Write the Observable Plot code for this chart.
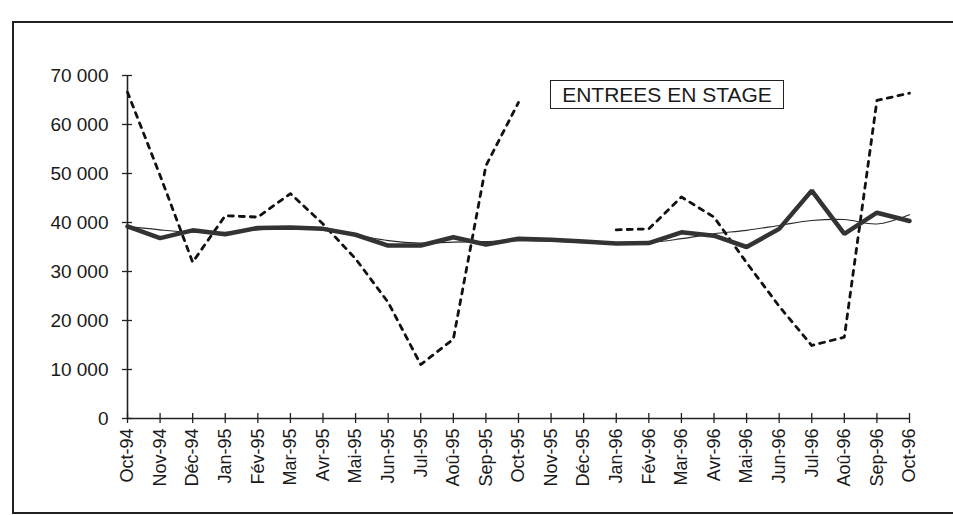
<!DOCTYPE html>
<html>
<head>
<meta charset="utf-8">
<script src="https://cdn.jsdelivr.net/npm/d3@7"></script>
<script src="https://cdn.jsdelivr.net/npm/@observablehq/plot@0.6"></script>
<style>
  html, body { margin: 0; padding: 0; background: #fff; overflow: hidden; }
  #wrap { position: relative; width: 953px; height: 515px; overflow: hidden; background: #fff; }
  #chart { position: absolute; left: 0; top: 0; }
  #frame { position: absolute; left: 12px; top: 21px; width: 1000px; height: 489px; border: 2px solid #222; border-right: none; }
  #legend { position: absolute; left: 550px; top: 80px; width: 232px; height: 27px; border: 1.5px solid #222;
            font: 21px "Liberation Sans", Arial, sans-serif; color: #1a1a1a; display: flex; align-items: center; justify-content: center; background: #fff; }
</style>
</head>
<body>
<div id="wrap">
  <div id="chart"></div>
  <div id="frame"></div>
  <div id="legend">ENTREES EN STAGE</div>
</div>
<script>
const months = ["Oct-94","Nov-94","Déc-94","Jan-95","Fév-95","Mar-95","Avr-95","Mai-95","Jun-95","Jul-95","Aoû-95","Sep-95","Oct-95","Nov-95","Déc-95","Jan-96","Fév-96","Mar-96","Avr-96","Mai-96","Jun-96","Jul-96","Aoû-96","Sep-96","Oct-96"];
// raw series (dashed), gap in Nov-95 / Déc-95
const brute = [66600, 49600, 31900, 41400, 41100, 45900, 39700, 32600, 23700, 11000, 16200, 51600, 64500, null, null, 38500, 38700, 45200, 41100, 31800, 22900, 14900, 16600, 64900, 66400];
// seasonally adjusted series (thick)
const cvs = [39200, 36800, 38400, 37600, 38900, 39000, 38700, 37500, 35300, 35300, 37000, 35500, 36700, 36500, 36100, 35700, 35800, 38000, 37300, 35000, 38700, 46500, 37700, 42000, 40300];
// trend (thin)
const tendance = [39200, 38500, 38000, 38000, 38500, 38800, 38500, 37500, 36300, 35800, 36000, 36100, 36300, 36200, 35900, 35700, 35900, 36700, 37700, 38400, 39400, 40400, 40600, 39700, 41600];
const yTicks = [0, 10000, 20000, 30000, 40000, 50000, 60000, 70000];

const rows = (arr) => months.map((m, i) => ({month: m, value: arr[i]}));
const fmt = (d) => d3.format(",")(d).replace(/,/g, " ");

const chart = Plot.plot({
  width: 953,
  height: 515,
  marginLeft: 127,
  marginRight: 44,
  marginTop: 75,
  marginBottom: 97,
  style: {fontFamily: "'Liberation Sans', Arial, sans-serif", color: "#1a1a1a", background: "transparent"},
  x: {type: "point", domain: months, padding: 0, round: false, label: null},
  y: {domain: [0, 70000], label: null},
  marks: [
    // y axis: crossing ticks + labels
    Plot.axisY({ticks: yTicks, tickSize: 10, dx: 5, tickFormat: () => "", label: null, stroke: "#222", strokeWidth: 1.3}),
    Plot.axisY({ticks: yTicks, tickSize: 0, tickPadding: 19, tickFormat: fmt, label: null, fontSize: 19, fill: "#1a1a1a"}),
    // x axis: crossing ticks + rotated labels
    Plot.axisX({tickSize: 10, dy: -5, tickFormat: () => "", label: null, stroke: "#222", strokeWidth: 1.3}),
    Plot.axisX({tickSize: 0, tickPadding: 10, tickRotate: -90, label: null, fontSize: 18, fill: "#1a1a1a"}),
    Plot.ruleX([months[0]], {stroke: "#222", strokeWidth: 1.6}),
    Plot.ruleY([0], {stroke: "#222", strokeWidth: 1.6}),
    // series
    Plot.line(rows(tendance), {x: "month", y: "value", stroke: "#2a2a2a", strokeWidth: 1.1, curve: "catmull-rom"}),
    Plot.line(rows(brute), {x: "month", y: "value", stroke: "#111", strokeWidth: 2.8, strokeDasharray: "5,6"}),
    Plot.line(rows(cvs), {x: "month", y: "value", stroke: "#333", strokeWidth: 4.5, strokeLinejoin: "miter"})
  ]
});
document.getElementById("chart").appendChild(chart);
</script>
</body>
</html>
